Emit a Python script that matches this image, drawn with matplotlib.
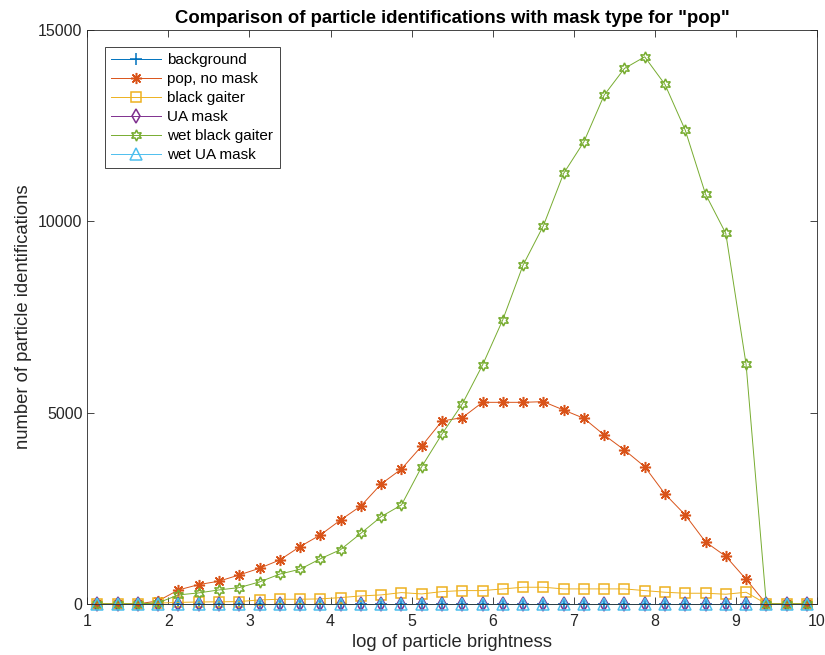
import numpy as np
import matplotlib
matplotlib.use("Agg")
import matplotlib.pyplot as plt

plt.rcParams['font.family'] = ['Liberation Sans', 'DejaVu Sans']

# bin centres, log of particle brightness
log_brightness = np.arange(1.125, 10.0, 0.25)

background = [0] * 36
pop_no_mask = [0, 0, 0, 80, 366, 505, 595, 758, 932, 1150, 1500, 1803, 2195, 2561,
               3136, 3527, 4128, 4782, 4869, 5270, 5270, 5270, 5287, 5069, 4852,
               4416, 4024, 3588, 2874, 2326, 1620, 1245, 645, 0, 0, 0]
black_gaiter = [0, 0, 0, 20, 40, 50, 55, 60, 105, 122, 122, 131, 165, 209, 235, 296,
                261, 322, 348, 348, 392, 436, 436, 392, 392, 392, 392, 348, 305,
                279, 279, 253, 305, 0, 0, 0]
ua_mask = [0] * 36
wet_black_gaiter = [0, 0, 0, 30, 235, 288, 366, 427, 575, 780, 907, 1180, 1420, 1847,
                    2282, 2587, 3588, 4442, 5226, 6245, 7430, 8858, 9885, 11254,
                    12080, 13300, 13998, 14302, 13580, 12385, 10713, 9686, 6271,
                    0, 0, 0]
wet_ua_mask = [0] * 36

labels = ["background", "pop, no mask", "black gaiter", "UA mask",
          "wet black gaiter", "wet UA mask"]
series = [background, pop_no_mask, black_gaiter, ua_mask, wet_black_gaiter, wet_ua_mask]
colors = ["#0072BD", "#D95319", "#EDB120", "#7E2F8E", "#77AC30", "#4DBEEE"]
markers = ["+", (8, 2, 0), "s", "d", (6, 1, 0), "^"]
sizes = [9, 8, 7, 7, 8, 8]

fig = plt.figure(figsize=(8.25, 6.55), dpi=100)
ax = fig.add_axes([0.1058, 0.078, 0.8845, 0.876])

for y, lab, c, m, ms in zip(series, labels, colors, markers, sizes):
    filled = m in ("+", (8, 2, 0))
    ax.plot(log_brightness, y, color=c, lw=0.7, marker=m, ms=ms,
            mfc=c if filled else "none", mec=c, mew=1.1, label=lab,
            clip_on=False)

ax.set_xlim(1, 10)
ax.set_ylim(0, 15000)
ax.set_xticks(range(1, 11))
ax.set_yticks([0, 5000, 10000, 15000])
ax.tick_params(direction="in", top=True, right=True, length=5, width=0.6,
               labelsize=11.5, colors="#262626")
ax.tick_params(axis="x", pad=7)
for s in ax.spines.values():
    s.set_linewidth(0.6)
    s.set_color("#262626")

ax.set_xlabel("log of particle brightness", fontsize=13.3, color="#262626", labelpad=4)
ax.set_ylabel("number of particle identifications", fontsize=13.3, color="#262626")
ax.set_title('Comparison of particle identifications with mask type for "pop"',
             fontsize=13.3, fontweight="bold", pad=5)

leg = ax.legend(loc="upper left", bbox_to_anchor=(0.024, 0.971), borderaxespad=0,
                fontsize=11, fancybox=False, framealpha=1, edgecolor="#262626",
                handlelength=3.3, handletextpad=0.4, labelspacing=0.33,
                borderpad=0.4)
leg.get_frame().set_linewidth(0.6)

fig.savefig("out.png", dpi=100)
